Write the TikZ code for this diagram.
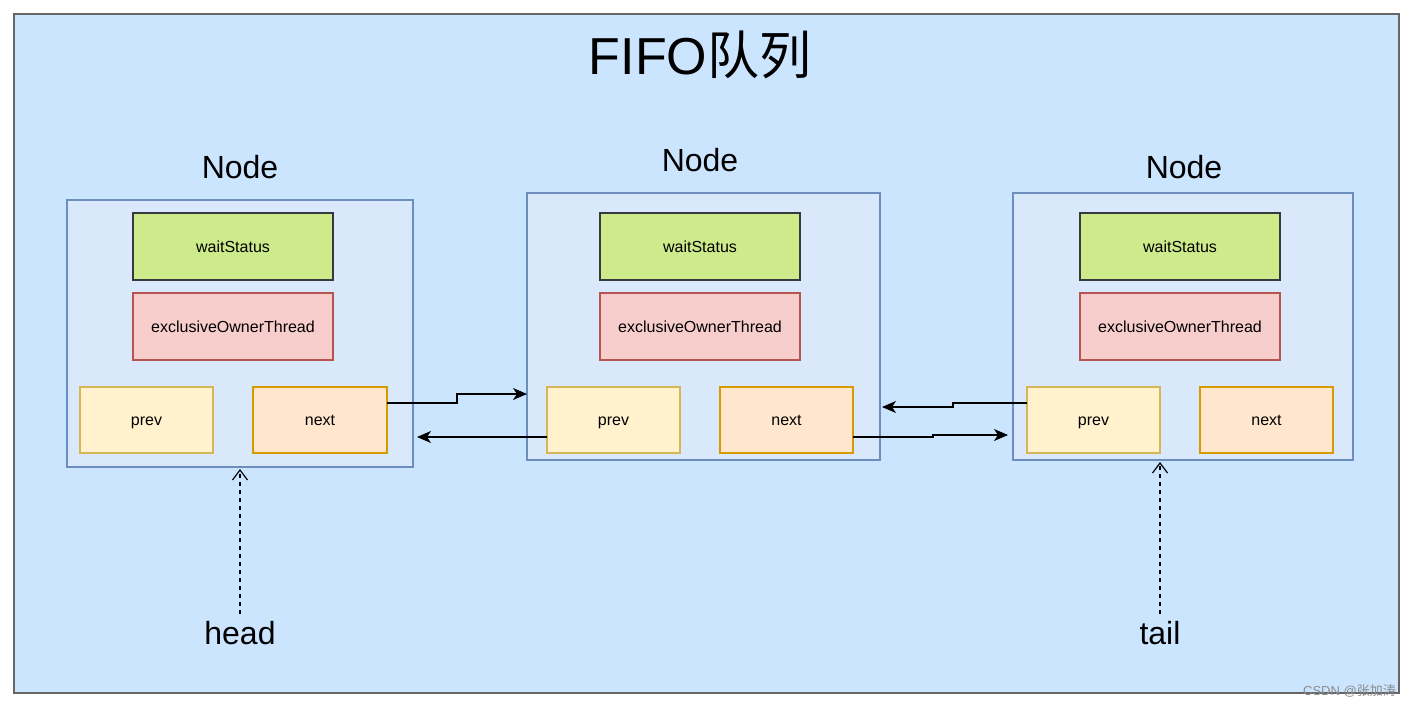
\documentclass[tikz,border=0pt]{standalone}
\usepackage{fontspec}
\setmainfont{Liberation Sans}
\newfontfamily\cjk{Noto Sans CJK SC}
\usetikzlibrary{arrows.meta}
\definecolor{bgblue}{HTML}{CCE5FF}
\definecolor{nodefill}{HTML}{DAE8FC}
\definecolor{nodedraw}{HTML}{6C8EBF}
\definecolor{greenfill}{HTML}{CDEB8B}
\definecolor{greendraw}{HTML}{36393D}
\definecolor{redfill}{HTML}{F8CECC}
\definecolor{reddraw}{HTML}{B85450}
\definecolor{yelfill}{HTML}{FFF2CC}
\definecolor{yeldraw}{HTML}{D6B656}
\definecolor{orfill}{HTML}{FFE6CC}
\definecolor{ordraw}{HTML}{D79B00}
\tikzset{
  x=1pt, y=-1pt,
  nodebox/.style={draw=nodedraw, fill=nodefill, line width=1.1pt},
  field/.style={line width=1.1pt, font=\fontsize{16}{18}\selectfont, text height=11.5pt, text depth=0.5pt, inner sep=0pt},
  wsbox/.style={field, draw=greendraw, fill=greenfill},
  exbox/.style={field, draw=reddraw, fill=redfill},
  prbox/.style={field, draw=yeldraw, fill=yelfill},
  nxbox/.style={field, draw=ordraw, fill=orfill},
  biglabel/.style={font=\fontsize{32}{36}\selectfont, text=black},
  link/.style={line width=1.4pt, -{Stealth[length=14pt,width=12pt,inset=4pt]}},
  ptr/.style={line width=1.2pt, dashed, dash pattern=on 4pt off 4pt, -{Straight Barb[length=10pt,width=15pt]}}
}
\begin{document}
\begin{tikzpicture}
\useasboundingbox (0,0) rectangle (1414,709);
\fill[white] (0,0) rectangle (1414,709);
\draw[fill=bgblue, draw=black!60, line width=2pt] (14,14) rectangle (1399,693);
\node[font=\fontsize{52}{60}\selectfont] (title) at (700,55) {FIFO{\cjk 队列}};

% Node 1
\draw[nodebox] (67,200) rectangle (413,467);
\node[biglabel] (l1) at (240,167) {Node};
\draw[wsbox] (133,213) rectangle (333,280);
\node[field] (ws1) at (233,246.5) {waitStatus};
\draw[exbox] (133,293) rectangle (333,360);
\node[field] (ex1) at (233,326.5) {exclusiveOwnerThread};
\draw[prbox] (80,387) rectangle (213,453);
\node[field] (pr1) at (146.5,420) {prev};
\draw[nxbox] (253,387) rectangle (387,453);
\node[field] (nx1) at (320,420) {next};

% Node 2
\draw[nodebox] (527,193) rectangle (880,460);
\node[biglabel] (l2) at (700,160) {Node};
\draw[wsbox] (600,213) rectangle (800,280);
\node[field] (ws2) at (700,246.5) {waitStatus};
\draw[exbox] (600,293) rectangle (800,360);
\node[field] (ex2) at (700,326.5) {exclusiveOwnerThread};
\draw[prbox] (547,387) rectangle (680,453);
\node[field] (pr2) at (613.5,420) {prev};
\draw[nxbox] (720,387) rectangle (853,453);
\node[field] (nx2) at (786.5,420) {next};

% Node 3
\draw[nodebox] (1013,193) rectangle (1353,460);
\node[biglabel] (l3) at (1184,167) {Node};
\draw[wsbox] (1080,213) rectangle (1280,280);
\node[field] (ws3) at (1180,246.5) {waitStatus};
\draw[exbox] (1080,293) rectangle (1280,360);
\node[field] (ex3) at (1180,326.5) {exclusiveOwnerThread};
\draw[prbox] (1027,387) rectangle (1160,453);
\node[field] (pr3) at (1093.5,420) {prev};
\draw[nxbox] (1200,387) rectangle (1333,453);
\node[field] (nx3) at (1266.5,420) {next};

% connector anchor coordinates
\coordinate (nx1r) at (387,403);
\coordinate (n2l) at (527,394);
\coordinate (pr2l) at (547,437);
\coordinate (n1r) at (417,437);
\coordinate (pr3l) at (1027,403);
\coordinate (n2r) at (882,407);
\coordinate (nx2r) at (853,437);
\coordinate (n3l) at (1008,435);

\draw[link] (nx1r) -- (457,403) -- (457,394) -- (n2l);
\draw[link] (pr2l) -- (n1r);
\draw[link] (pr3l) -- (953,403) -- (953,407) -- (n2r);
\draw[link] (nx2r) -- (933,437) -- (933,435) -- (n3l);

% head / tail
\node[biglabel] (head) at (240,633) {head};
\node[biglabel] (tail) at (1160,633) {tail};
\coordinate (h1) at (240,469);
\coordinate (t1) at (1160,462);
\draw[ptr] (head.north) ++(0,-4) -- (h1);
\draw[ptr] (tail.north) ++(0,-4) -- (t1);

% watermark
\node[anchor=south east, inner sep=0pt, text=black!45, font=\fontsize{13}{14}\selectfont] (wm) at (1396,697) {CSDN @{\cjk 张加涛}};
\end{tikzpicture}
\end{document}
